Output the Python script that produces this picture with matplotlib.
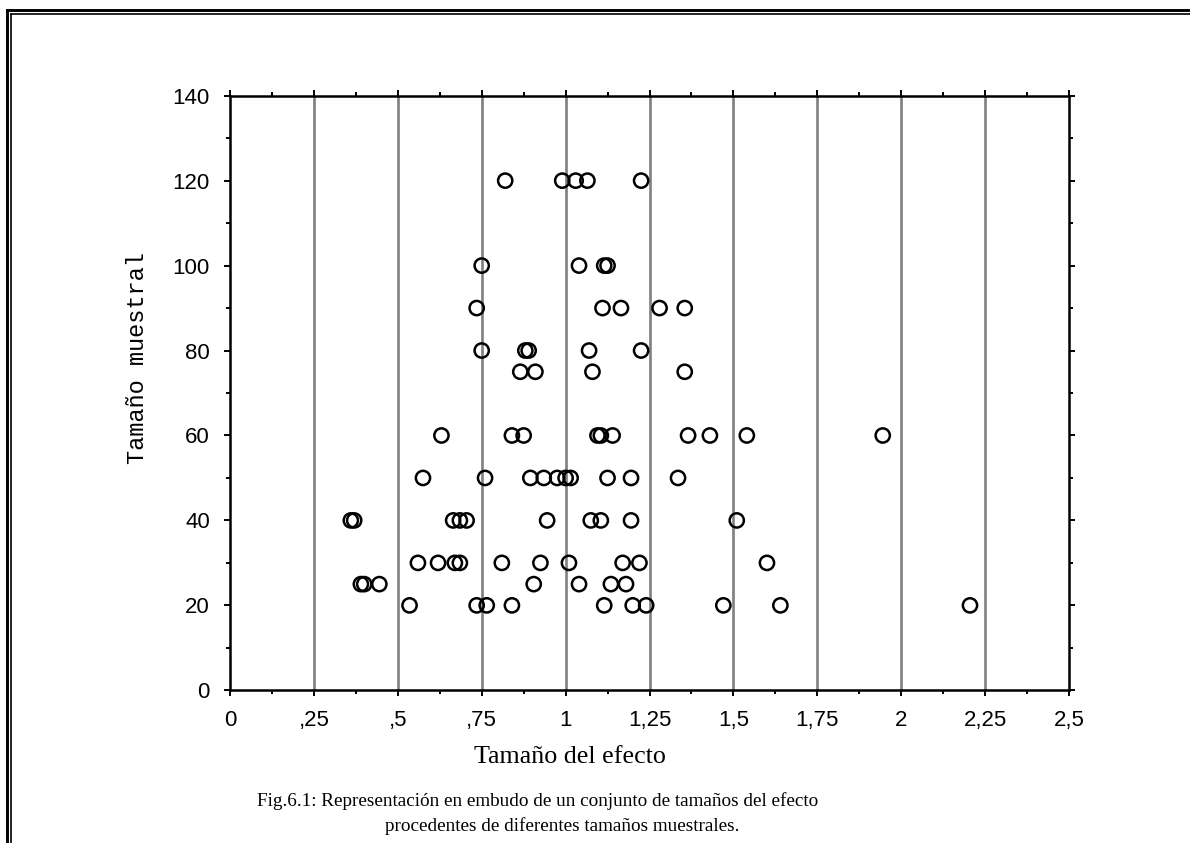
import numpy as np
import matplotlib
matplotlib.use("Agg")
import matplotlib.pyplot as plt
from matplotlib.lines import Line2D

# tamaños del efecto observados para cada tamaño muestral
efecto_20 = [0.535, 0.735, 0.765, 0.84, 1.115, 1.20, 1.24, 1.47, 1.64, 2.205]
efecto_25 = [0.39, 0.40, 0.445, 0.905, 1.04, 1.135, 1.18]
efecto_30 = [0.56, 0.62, 0.67, 0.685, 0.81, 0.925, 1.01, 1.17, 1.22, 1.60]
efecto_40 = [0.36, 0.37, 0.665, 0.685, 0.705, 0.945, 1.075, 1.105, 1.195, 1.51]
efecto_50 = [0.575, 0.76, 0.895, 0.935, 0.975, 1.00, 1.015, 1.125, 1.195, 1.335]
efecto_60 = [0.63, 0.84, 0.875, 1.095, 1.105, 1.14, 1.365, 1.43, 1.54, 1.945]
efecto_75 = [0.865, 0.91, 1.08, 1.355]
efecto_80 = [0.75, 0.88, 0.89, 1.07, 1.225]
efecto_90 = [0.735, 1.11, 1.165, 1.28, 1.355]
efecto_100 = [0.75, 1.04, 1.115, 1.125]
efecto_120 = [0.82, 0.99, 1.03, 1.065, 1.225]

tamanos = [20, 25, 30, 40, 50, 60, 75, 80, 90, 100, 120]
grupos = [efecto_20, efecto_25, efecto_30, efecto_40, efecto_50, efecto_60,
          efecto_75, efecto_80, efecto_90, efecto_100, efecto_120]

x_ticks = [0, 0.25, 0.5, 0.75, 1, 1.25, 1.5, 1.75, 2, 2.25, 2.5]
x_labels = ["0", ",25", ",5", ",75", "1", "1,25", "1,5", "1,75", "2", "2,25", "2,5"]
y_ticks = [0, 20, 40, 60, 80, 100, 120, 140]

x = np.concatenate([np.array(g, dtype=float) for g in grupos])
y = np.concatenate([np.full(len(g), n, dtype=float) for g, n in zip(grupos, tamanos)])

W, H = 1190, 843
fig = plt.figure(figsize=(W / 100, H / 100), dpi=100)

# doble marco a la izquierda y arriba
def fx(px):
    return px / W

def fy(py):
    return 1 - py / H

fig.add_artist(Line2D([fx(7), fx(7)], [fy(10), 0], color="black", lw=2.1))
fig.add_artist(Line2D([fx(11), fx(11)], [fy(14), 0], color="black", lw=1.2))
fig.add_artist(Line2D([fx(7), 1], [fy(10), fy(10)], color="black", lw=2.1))
fig.add_artist(Line2D([fx(11), 1], [fy(14), fy(14)], color="black", lw=1.2))

ax = fig.add_axes([fx(230), fy(690.3), (1069 - 230) / W, (690.3 - 95.7) / H])

for xv in x_ticks[1:-1]:
    ax.axvline(xv, color="#808080", lw=1.9, zorder=1)

ax.scatter(x, y, s=105, facecolors="none", edgecolors="black", linewidths=1.8, zorder=3)

ax.set_xlim(0, 2.5)
ax.set_ylim(0, 140)
ax.set_xticks(x_ticks)
ax.set_xticklabels(x_labels)
ax.set_yticks(y_ticks)
ax.set_xticks(np.arange(0.125, 2.5, 0.25), minor=True)
ax.set_yticks(np.arange(10, 140, 20), minor=True)

for s in ax.spines.values():
    s.set_linewidth(1.8)

ax.tick_params(which="both", direction="out", top=True, right=True, width=1.4)
ax.tick_params(which="major", length=4.5)
ax.tick_params(which="minor", length=3)
ax.tick_params(axis="x", which="major", pad=10)
ax.tick_params(axis="y", which="major", pad=10)
for lab in ax.get_xticklabels() + ax.get_yticklabels():
    lab.set_fontfamily("Liberation Sans")
    lab.set_fontsize(16)

ax.set_xlabel("Tamaño del efecto", fontfamily="Liberation Serif", fontsize=18.7)
ax.xaxis.set_label_coords((570 - 230) / 839, (690.3 - 757) / 594.6)
ax.set_ylabel("Tamaño muestral", fontfamily="Liberation Mono", fontsize=17)
ax.yaxis.set_label_coords((137 - 230) / 839, (690.3 - 358) / 594.6)
ax.xaxis.label.set_va("center")
ax.yaxis.label.set_va("center")

fig.text(fx(257), fy(801), "Fig.6.1: Representación en embudo de un conjunto de tamaños del efecto",
         fontfamily="Liberation Serif", fontsize=13.8, ha="left", va="center")
fig.text(fx(562), fy(826), "procedentes de diferentes tamaños muestrales.",
         fontfamily="Liberation Serif", fontsize=13.8, ha="center", va="center")

fig.savefig("out.png", dpi=100)
